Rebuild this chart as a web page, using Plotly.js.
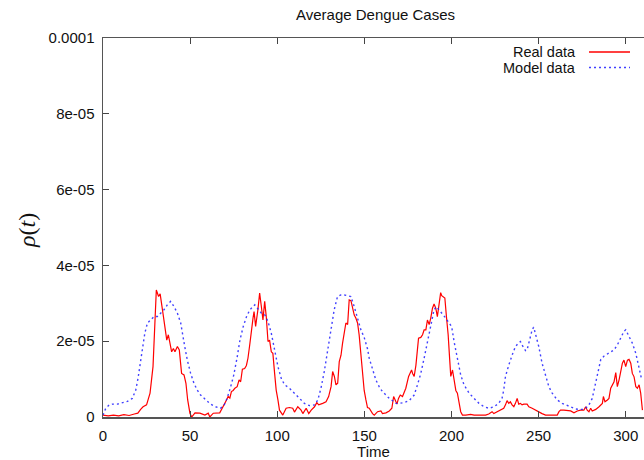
<!DOCTYPE html>
<html>
<head>
<meta charset="utf-8">
<script src="https://cdn.plot.ly/plotly-3.0.1.min.js"></script>
<style>
html,body{margin:0;padding:0;background:#fff;overflow:hidden;}
#chart{width:644px;height:460px;}
</style>
</head>
<body>
<div id="chart"></div>
<script>
// Values in units of 1e-5
var realT = [0,3,6,9,12,15,18,20,21.6,23,25,27,28.7,29.6,30.6,31.9,32.8,34.4,35.6,36.6,37.5,38.5,39.4,40.4,41.3,42.7,43.8,45.1,46.5,47.6,48.6,49.9,50.9,52.8,55.6,58.5,60.4,61.3,63.3,67,69,70.9,71.8,72.8,73.7,74.7,75.7,77,78.1,79,80,81.3,82.3,83.2,84.2,85.1,86.1,86.7,87.6,88.9,89.9,90.9,91.8,92.8,93.7,94.7,95.6,96.6,97.5,98.5,99.4,100.4,101.3,103.2,105.1,107,108.9,109.9,111.8,113.7,114.7,116.6,118.1,119.5,121.4,122.7,123.8,126.1,128,129.5,130.9,131.8,132.8,133.7,134.7,135.6,136.6,137.5,138.5,139.4,140.4,141.3,142.3,143.2,144.2,145.1,146.1,147,148,149,149.9,150.9,151.8,152.8,153.7,154.7,155.7,157.6,159.5,160.4,162.4,164.3,165.8,166.8,167.7,168.7,169.6,170.6,171.9,172.9,173.8,175.4,176.3,177.1,177.7,178.6,179.6,180.5,181.1,182.4,183.4,184.3,185.3,186.2,187.2,188.1,189.1,190,191,191.9,192.9,193.8,194.4,195.2,196.2,197.1,198.1,199,199.6,200.6,201.5,202.5,203.4,204.4,205.3,206.3,208.2,211,213,215.8,219.6,221.4,223.3,224.3,226.2,228.1,230,231,231.9,232.9,233.8,234.8,235.8,236.7,237.7,238.6,239.6,240.5,241.5,243.4,244.4,246.3,248.2,250.1,252,254,255.9,258.8,260.7,261.7,262.6,264.5,266.5,268.4,270.3,272.2,274.1,276,277,277.9,278.9,279.9,280.8,282.8,284.7,286.6,287.2,288.1,289.5,290.4,291.4,292.3,293.3,294.3,295.2,296.2,297.1,298.1,299,300,301,301.9,302.9,303.8,304.8,305.8,306.7,307.7,308.6,309.6];
var realV = [0.05,0.03,0.05,0.03,0.06,0.04,0.08,0.1,0.2,0.27,0.32,0.63,1.33,2.3,3.35,3.18,3.25,2.74,2.39,2.03,2.17,1.95,1.72,1.81,1.72,1.86,1.77,1.15,1.11,0.89,0.45,0.1,0.0,0.11,0.1,0.05,0.1,0.0,0.1,0.11,0.27,0.45,0.54,0.5,0.67,0.7,0.76,0.8,0.98,0.93,1.26,1.28,1.36,1.55,1.9,2.3,2.61,2.78,2.39,2.83,3.27,2.91,2.56,3.05,2.65,1.99,2.03,1.72,1.68,1.15,0.71,0.45,0.18,0.05,0.23,0.25,0.23,0.13,0.27,0.18,0.09,0.23,0.09,0.18,0.27,0.38,0.32,0.36,0.4,0.54,0.8,1.2,1.07,0.85,0.89,1.46,1.63,1.95,2.3,2.48,2.44,3.09,3.07,2.91,2.69,2.61,2.48,2.17,1.68,1.3,0.7,0.45,0.25,0.23,0.15,0.09,0.05,0.14,0.16,0.09,0.11,0.16,0.23,0.54,0.45,0.34,0.49,0.58,0.54,0.67,0.76,1.07,1.15,1.24,1.15,1.07,1.37,1.81,2.08,2.1,2.17,2.3,2.3,2.56,2.44,2.61,2.87,2.98,2.87,2.65,3.0,3.28,3.2,3.18,3.14,2.65,2.17,1.5,1.07,1.24,0.98,0.7,0.63,0.36,0.14,0.05,0.05,0.07,0.05,0.05,0.05,0.08,0.14,0.09,0.14,0.18,0.23,0.32,0.43,0.36,0.4,0.32,0.27,0.36,0.49,0.34,0.36,0.32,0.34,0.34,0.27,0.23,0.18,0.14,0.09,0.05,0.05,0.05,0.05,0.14,0.18,0.18,0.16,0.16,0.11,0.16,0.18,0.18,0.27,0.18,0.14,0.23,0.16,0.2,0.27,0.36,0.54,0.4,0.45,0.49,0.76,0.85,0.93,1.17,0.8,0.98,1.24,1.42,1.5,1.33,1.5,1.52,1.42,1.15,1.06,0.8,0.76,0.85,0.63,0.18];

var modelT = [0,1.6,3.5,5.4,8.2,11.1,14,16.8,18.8,20.1,21.3,22.6,24,25.5,27.4,29.3,31.2,33.1,35,36.9,38.8,40.8,42.7,44.6,45.5,46.9,48.4,50.3,52.2,54.1,56,58.9,61.7,64.6,67.4,69.4,71.2,73.1,75,76.9,78.6,80.5,82.4,84.3,86.1,87.1,89,90.9,92.8,94.7,96.6,98.5,100.4,102.3,104.2,107,109.9,112.8,115.6,118.5,121.4,123.3,125.1,127,128.9,130.8,132.7,134.6,136.5,138.5,140.4,142.3,144.2,146.1,148,149.9,151.8,152.8,154.7,156.6,158.5,160.4,162.4,164.3,166.2,168.1,170,172.9,175.7,178.6,180.5,182.4,184.3,186.2,188.1,190,191.4,192.9,194.8,196.7,198.6,200.1,201.5,203.4,205.3,207.2,210.1,213,215.8,218.7,221.5,224.4,226.3,227.1,229,230,231,231.9,232.9,234.8,236.7,238.6,239.6,240.5,242.5,243.4,244.4,245.3,246.3,247.2,248.2,250.1,252,254,255.9,257.8,260.7,263.6,266.5,269.3,271.3,273.2,275.1,277,278.9,280.8,282.3,283.7,284.7,285.7,287.6,289.5,291.4,293.3,295.2,297.1,299,300,301.9,303.8,305.8,307.7,309.2];
var modelV = [0.05,0.23,0.32,0.34,0.34,0.37,0.41,0.49,0.71,1.02,1.37,1.86,2.21,2.48,2.58,2.65,2.65,2.74,2.83,2.96,3.05,2.91,2.74,2.48,2.21,1.86,1.5,1.15,0.89,0.71,0.58,0.45,0.34,0.27,0.23,0.3,0.49,0.77,1.1,1.55,2.03,2.39,2.65,2.83,2.91,2.96,2.85,2.74,2.7,2.52,2.21,1.77,1.33,1.02,0.85,0.76,0.63,0.49,0.36,0.3,0.32,0.45,0.76,1.2,1.72,2.3,2.83,3.18,3.22,3.22,3.2,3.18,2.91,2.61,2.3,2.1,1.8,1.55,1.24,0.98,0.8,0.67,0.58,0.49,0.43,0.36,0.36,0.38,0.43,0.58,0.85,1.15,1.55,1.99,2.48,2.83,2.91,2.83,2.74,2.61,2.48,2.39,1.99,1.5,1.11,0.85,0.63,0.49,0.36,0.27,0.23,0.27,0.32,0.36,0.49,0.71,1.07,1.24,1.37,1.63,1.86,1.96,1.99,1.9,1.75,1.77,1.95,2.12,2.3,2.37,2.21,1.86,1.42,1.07,0.8,0.63,0.45,0.36,0.3,0.23,0.21,0.2,0.2,0.23,0.32,0.49,0.8,1.07,1.33,1.52,1.61,1.66,1.72,1.77,1.9,2.08,2.26,2.3,2.12,1.95,1.68,1.33,0.98];

var yTickVals = [0, 2e-5, 4e-5, 6e-5, 8e-5, 1e-4];
var yTickText = ['0', '2e-05', '4e-05', '6e-05', '8e-05', '0.0001'];
var seriesNames = ['Real data', 'Model data'];
var titleText = 'Average Dengue Cases';
var xTitle = 'Time';
var yTitle = '<i>ρ</i>(<i>t</i>)';

var scale = 1e-5;
var realY = realV.map(function(v){return v*scale;});
var modelY = modelV.map(function(v){return v*scale;});

var W = 644, H = 460, mL = 103, mR = 0, mT = 38, mB = 43;
var pw = W - mL - mR, ph = H - mT - mB;
function px2paperX(p){ return (p - mL)/pw; }
function px2paperY(p){ return (H - mB - p)/ph; }

var font = 'Liberation Sans, Arial, Helvetica, sans-serif';
var dotted = '2px,3px';
var redCol = 'rgb(255,0,0)';
var blueCol = 'rgb(32,32,255)';

var traces = [
  {x: realT, y: realY, type: 'scatter', mode: 'lines', name: seriesNames[0],
   line: {color: redCol, width: 1.2}, showlegend: false, hoverinfo: 'skip'},
  {x: modelT, y: modelY, type: 'scatter', mode: 'lines', name: seriesNames[1],
   line: {color: blueCol, width: 1.4, dash: dotted}, opacity: 0.85, showlegend: false, hoverinfo: 'skip'}
];

var layout = {
  width: W, height: H,
  margin: {l: mL, r: mR, t: mT, b: mB, pad: 0},
  paper_bgcolor: '#fff', plot_bgcolor: '#fff',
  font: {family: font, size: 15, color: '#111'},
  title: {text: titleText, x: 375.5/W, xref: 'container', xanchor: 'center',
          y: 1 - 15/H, yref: 'container', yanchor: 'middle', font: {family: font, size: 15, color: '#111'}},
  xaxis: {range: [0, 310.5], dtick: 50, tick0: 0, ticks: 'inside', ticklen: 6, tickwidth: 1.2, tickcolor: '#444',
          showline: true, linecolor: '#555', linewidth: 1.5, mirror: 'ticks', showgrid: false, zeroline: false,
          tickfont: {family: font, size: 15, color: '#111'}, ticklabelstandoff: 4,
          title: {text: xTitle, font: {family: font, size: 15, color: '#111'}, standoff: 6}},
  yaxis: {range: [0, 1e-4], tickvals: yTickVals, ticktext: yTickText, ticks: 'inside', ticklen: 6, tickwidth: 1.2, tickcolor: '#444',
          showline: true, linecolor: '#555', linewidth: 1.5, mirror: false, showgrid: false, zeroline: false,
          tickfont: {family: font, size: 15, color: '#111'}, ticklabelstandoff: 4},
  annotations: [
    {text: yTitle, xref: 'paper', yref: 'paper', x: px2paperX(27), y: px2paperY(231), xanchor: 'center', yanchor: 'middle',
     textangle: -90, showarrow: false, font: {family: 'Liberation Serif, DejaVu Serif, serif', size: 24, color: '#111'}},
    {text: seriesNames[0], xref: 'paper', yref: 'paper', x: px2paperX(578), y: px2paperY(51.5), xanchor: 'right', yanchor: 'middle',
     showarrow: false, font: {family: font, size: 14.5, color: '#111'}},
    {text: seriesNames[1], xref: 'paper', yref: 'paper', x: px2paperX(578), y: px2paperY(67.5), xanchor: 'right', yanchor: 'middle',
     showarrow: false, font: {family: font, size: 14.5, color: '#111'}}
  ],
  shapes: [
    {type: 'line', xref: 'paper', yref: 'paper', layer: 'above', opacity: 1,
     x0: px2paperX(589), x1: px2paperX(630), y0: px2paperY(52), y1: px2paperY(52),
     line: {color: redCol, width: 1.3, dash: 'solid'}},
    {type: 'line', xref: 'paper', yref: 'paper', layer: 'above', opacity: 0.85,
     x0: px2paperX(589), x1: px2paperX(630), y0: px2paperY(67.5), y1: px2paperY(67.5),
     line: {color: blueCol, width: 1.4, dash: dotted}}
  ]
};

Plotly.newPlot('chart', traces, layout, {displayModeBar: false, staticPlot: true});
</script>
</body>
</html>
